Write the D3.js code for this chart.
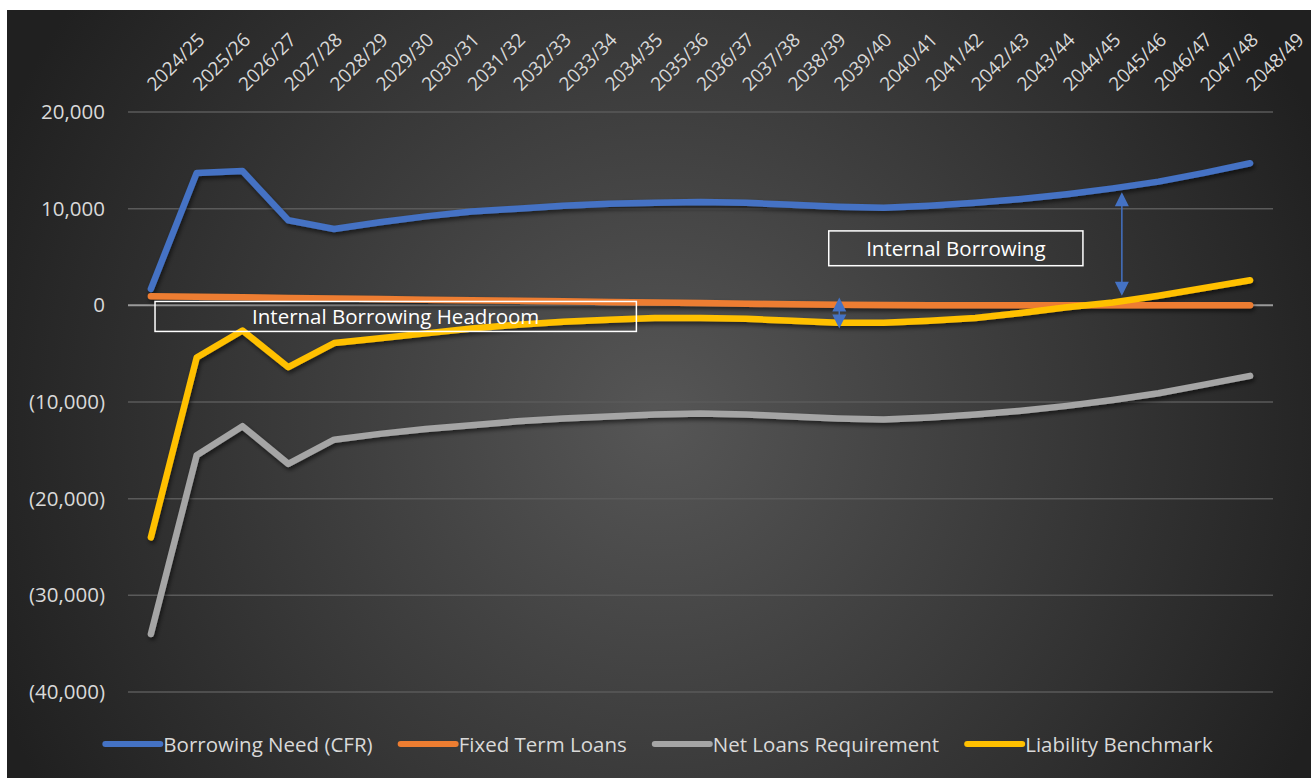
<!DOCTYPE html>
<html>
<head>
<meta charset="utf-8">
<script src="https://cdn.jsdelivr.net/npm/d3@7"></script>
<style>
  html, body { margin: 0; padding: 0; background: #fff; }
  svg { display: block; }
  text { font-family: "Open Sans", sans-serif; }
</style>
</head>
<body>
<svg id="chart"></svg>
<script>
// categories + series
const categories = ["2024/25","2025/26","2026/27","2027/28","2028/29","2029/30","2030/31","2031/32",
  "2032/33","2033/34","2034/35","2035/36","2036/37","2037/38","2038/39","2039/40","2040/41",
  "2041/42","2042/43","2043/44","2044/45","2045/46","2046/47","2047/48","2048/49"];

const borrowingNeed = [1700, 13700, 13900, 8800, 7900, 8600, 9200, 9700, 10000, 10300, 10500, 10600,
  10700, 10600, 10400, 10200, 10100, 10300, 10600, 11000, 11500, 12100, 12800, 13700, 14700];
const fixedTermLoans = [950, 890, 830, 770, 710, 650, 590, 530, 470, 410, 350, 290,
  230, 170, 110, 60, 30, 15, 5, 0, 0, 0, 0, 0, 0];
const netLoans = [-34000, -15500, -12500, -16400, -13900, -13300, -12800, -12400, -12000, -11700, -11500, -11300,
  -11200, -11300, -11500, -11700, -11800, -11600, -11300, -10900, -10400, -9800, -9100, -8200, -7300];
const liabilityBenchmark = [-24000, -5400, -2600, -6400, -3900, -3400, -2900, -2400, -2000, -1700, -1500, -1300,
  -1300, -1400, -1600, -1800, -1800, -1600, -1300, -800, -200, 300, 1000, 1800, 2600];

const yTicks = [-40000, -30000, -20000, -10000, 0, 10000, 20000];

const seriesNames = ["Borrowing Need (CFR)", "Fixed Term Loans", "Net Loans Requirement", "Liability Benchmark"];
const seriesColors = ["#4472C4", "#ED7D31", "#A5A5A5", "#FFC000"];
const seriesValues = [borrowingNeed, fixedTermLoans, netLoans, liabilityBenchmark];

// annotations, in category index / value units
const annoBoxes = [
  {label: "Internal Borrowing", i0: 14.8, i1: 20.35, v0: 7700, v1: 4100},
  {label: "Internal Borrowing Headroom", i0: 0.09, i1: 10.6, v0: 400, v1: -2700}
];
const annoArrows = [
  {i: 21.2, v0: 11700, v1: 1000},
  {i: 15.03, v0: 800, v1: -2400}
];

const W = 1311, H = 778;
const svg = d3.select("#chart").attr("width", W).attr("height", H);
const defs = svg.append("defs");

const grad = defs.append("radialGradient").attr("id", "bg")
  .attr("gradientUnits", "userSpaceOnUse")
  .attr("cx", 660).attr("cy", 420).attr("r", 720);
grad.append("stop").attr("offset", "0%").attr("stop-color", "#565656");
grad.append("stop").attr("offset", "100%").attr("stop-color", "#202020");

const shadow = defs.append("filter").attr("id", "shadow")
  .attr("x", "-10%").attr("y", "-10%").attr("width", "120%").attr("height", "130%");
shadow.append("feDropShadow").attr("dx", 1.5).attr("dy", 3).attr("stdDeviation", 2)
  .attr("flood-color", "#000").attr("flood-opacity", 0.55);

svg.append("rect").attr("x", 7).attr("y", 10).attr("width", W - 7).attr("height", H - 10)
  .attr("fill", "url(#bg)");

const plot = {left: 128, right: 1273, top: 112, bottom: 692};

const x = d3.scalePoint().domain(categories).range([plot.left, plot.right]).padding(0.5);
const xi = d3.scaleLinear().domain([0, categories.length - 1])
  .range([x(categories[0]), x(categories[categories.length - 1])]);
const y = d3.scaleLinear().domain([-40000, 20000]).range([plot.bottom, plot.top]);

// gridlines
svg.append("g").selectAll("line").data(yTicks).join("line")
  .attr("x1", plot.left).attr("x2", plot.right)
  .attr("y1", d => y(d)).attr("y2", d => y(d))
  .attr("stroke", d => d === 0 ? "#9a9a9a" : "#5a5a5a")
  .attr("stroke-width", d => d === 0 ? 2 : 1.5);

// y axis labels
const fmt = d => d < 0 ? "(" + d3.format(",")(-d) + ")" : d3.format(",")(d);
const yAxis = svg.append("g").attr("transform", `translate(${plot.left - 23},0)`)
  .call(d3.axisLeft(y).tickValues(yTicks).tickFormat(fmt).tickSize(0).tickPadding(0));
yAxis.select(".domain").remove();
yAxis.selectAll("text").attr("fill", "#d9d9d9").style("font-size", "20.5px")
  .style("font-family", "'Open Sans', sans-serif");

// x labels along the top, rotated
svg.append("g").selectAll("text").data(categories).join("text")
  .attr("transform", d => `translate(${x(d) + 4},92) rotate(-45)`)
  .attr("fill", "#d9d9d9").style("font-size", "19px")
  .text(d => d);

// lines
const line = d3.line().x((d, i) => x(categories[i])).y(d => y(d));
const order = [1, 2, 3, 0];
svg.append("g").attr("filter", "url(#shadow)").selectAll("path").data(order).join("path")
  .attr("d", k => line(seriesValues[k]))
  .attr("fill", "none")
  .attr("stroke", k => seriesColors[k])
  .attr("stroke-width", 6.5)
  .attr("stroke-linejoin", "round")
  .attr("stroke-linecap", "round");

// annotation boxes
const boxes = svg.append("g").selectAll("g").data(annoBoxes).join("g");
boxes.append("rect")
  .attr("x", d => xi(d.i0)).attr("y", d => y(d.v0))
  .attr("width", d => xi(d.i1) - xi(d.i0)).attr("height", d => y(d.v1) - y(d.v0))
  .attr("fill", "none").attr("stroke", "#ffffff").attr("stroke-width", 1.5);
boxes.append("text")
  .attr("x", d => (xi(d.i0) + xi(d.i1)) / 2).attr("y", d => (y(d.v0) + y(d.v1)) / 2)
  .attr("text-anchor", "middle").attr("dominant-baseline", "central")
  .attr("fill", "#ffffff").style("font-size", "20.5px")
  .text(d => d.label);

// double arrows
const arrows = svg.append("g").selectAll("g").data(annoArrows).join("g");
arrows.append("line")
  .attr("x1", d => xi(d.i)).attr("x2", d => xi(d.i))
  .attr("y1", d => y(d.v0) + 6).attr("y2", d => y(d.v1) - 6)
  .attr("stroke", "#4472C4").attr("stroke-width", 1.5);
arrows.append("path")
  .attr("d", d => {
    const cx = xi(d.i), t = y(d.v0), b = y(d.v1);
    return `M${cx},${t} L${cx - 7},${t + 14} L${cx + 7},${t + 14} Z M${cx},${b} L${cx - 7},${b - 14} L${cx + 7},${b - 14} Z`;
  })
  .attr("fill", "#4472C4");

// legend
const legend = svg.append("g").attr("transform", "translate(0,744)");
const items = legend.selectAll("g").data(seriesNames).join("g");
items.append("line").attr("x1", 0).attr("x2", 55).attr("y1", 0).attr("y2", 0)
  .attr("stroke", (d, i) => seriesColors[i]).attr("stroke-width", 6).attr("stroke-linecap", "round");
items.append("text").attr("x", 58).attr("y", 0).attr("dominant-baseline", "central")
  .attr("fill", "#d9d9d9").style("font-size", "20.5px").text(d => d);
let widths = [];
items.each(function () { widths.push(58 + this.querySelector("text").getComputedTextLength()); });
const gap = 28;
const total = d3.sum(widths) + gap * (widths.length - 1);
let cur = 659 - total / 2;
items.attr("transform", (d, i) => {
  const t = `translate(${cur},0)`;
  cur += widths[i] + gap;
  return t;
});
</script>
</body>
</html>
